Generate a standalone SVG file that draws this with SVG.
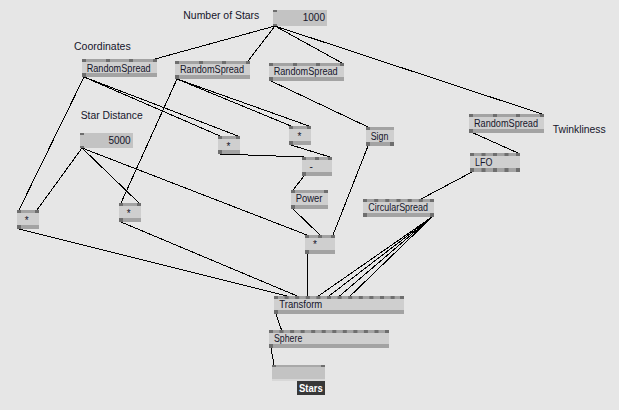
<svg xmlns="http://www.w3.org/2000/svg" width="619" height="410" viewBox="0 0 619 410">
<style>
.body{fill:#cfcfcf}
.strip{fill:#a3a3a3}
.pin{fill:#6e6e6e}
.io{fill:#c3c3c3}
.wire{stroke:#000;stroke-width:1;fill:none}
.lbl{font-family:"Liberation Sans",Tahoma,Arial,sans-serif;font-size:10px;fill:#15152a}
.sym{font-family:"Liberation Sans",Tahoma,Arial,sans-serif;font-size:10px;fill:#15152a}
</style>
<rect width="619" height="410" fill="#e6e6e6"/>

<g id="connectors" shape-rendering="crispEdges">
<line class="wire" x1="275" y1="26" x2="155" y2="59"/>
<line class="wire" x1="275" y1="26" x2="248" y2="61"/>
<line class="wire" x1="275" y1="26" x2="342" y2="63"/>
<line class="wire" x1="275" y1="26" x2="542" y2="114"/>
<line class="wire" x1="84" y1="77" x2="19" y2="210"/>
<line class="wire" x1="84" y1="77" x2="220" y2="136"/>
<line class="wire" x1="84" y1="77" x2="238" y2="136"/>
<line class="wire" x1="177" y1="79" x2="121" y2="203"/>
<line class="wire" x1="177" y1="79" x2="291" y2="126"/>
<line class="wire" x1="177" y1="79" x2="309" y2="126"/>
<line class="wire" x1="271" y1="81" x2="368" y2="127"/>
<line class="wire" x1="82" y1="148" x2="37" y2="210"/>
<line class="wire" x1="82" y1="148" x2="139" y2="203"/>
<line class="wire" x1="82" y1="148" x2="307" y2="235"/>
<line class="wire" x1="19" y1="229" x2="286.6" y2="296"/>
<line class="wire" x1="121" y1="222" x2="297.2" y2="296"/>
<line class="wire" x1="220" y1="154" x2="304" y2="157"/>
<line class="wire" x1="291" y1="145" x2="330" y2="157"/>
<line class="wire" x1="304" y1="176" x2="293" y2="190"/>
<line class="wire" x1="293" y1="209" x2="320" y2="235"/>
<line class="wire" x1="368" y1="146" x2="333" y2="235"/>
<line class="wire" x1="307.5" y1="254" x2="307.5" y2="296"/>
<line class="wire" x1="432" y1="217" x2="318.4" y2="296"/>
<line class="wire" x1="432" y1="217" x2="329" y2="296"/>
<line class="wire" x1="432" y1="217" x2="339.6" y2="296"/>
<line class="wire" x1="432" y1="217" x2="350.2" y2="296"/>
<line class="wire" x1="472" y1="172" x2="421" y2="199"/>
<line class="wire" x1="471" y1="132" x2="518" y2="153"/>
<line class="wire" x1="276" y1="314" x2="281.5" y2="330"/>
<line class="wire" x1="271" y1="348" x2="274" y2="365"/>
</g>

<text class="lbl" x="183.3" y="19" textLength="76" lengthAdjust="spacingAndGlyphs">Number of Stars</text>
<text class="lbl" x="74" y="50" textLength="56.7" lengthAdjust="spacingAndGlyphs">Coordinates</text>
<text class="lbl" x="80.7" y="118.7" textLength="62" lengthAdjust="spacingAndGlyphs">Star Distance</text>
<text class="lbl" x="552.7" y="132.7" textLength="53" lengthAdjust="spacingAndGlyphs">Twinkliness</text>

<g id="numberOfStars">
<rect class="io" x="273" y="10" width="54" height="16"/>
<rect class="pin" x="273" y="10" width="4" height="2"/>
<rect class="pin" x="273" y="24" width="4" height="2"/>
<text class="lbl" x="325" y="21" text-anchor="end">1000</text>
</g>

<g id="starDistance">
<rect class="io" x="80" y="133" width="53" height="15"/>
<rect class="pin" x="80" y="133" width="4" height="2"/>
<rect class="pin" x="80" y="146" width="4" height="2"/>
<text class="lbl" x="130.7" y="144" text-anchor="end">5000</text>
</g>

<g id="randomSpread1">
<rect class="body" x="82" y="59" width="75" height="18"/>
<rect class="strip" x="82" y="59" width="75" height="3"/>
<rect class="strip" x="82" y="73" width="75" height="4"/>
<rect class="pin" x="82" y="59" width="4" height="3"/><rect class="pin" x="106" y="59" width="4" height="3"/><rect class="pin" x="129" y="59" width="4" height="3"/><rect class="pin" x="153" y="59" width="4" height="3"/>
<rect class="pin" x="82" y="73" width="4" height="4"/>
<text class="lbl" x="86.7" y="71.7" textLength="64" lengthAdjust="spacingAndGlyphs">RandomSpread</text>
</g>

<g id="randomSpread2">
<rect class="body" x="175" y="61" width="75" height="18"/>
<rect class="strip" x="175" y="61" width="75" height="3"/>
<rect class="strip" x="175" y="75" width="75" height="4"/>
<rect class="pin" x="175" y="61" width="4" height="3"/><rect class="pin" x="199" y="61" width="4" height="3"/><rect class="pin" x="222" y="61" width="4" height="3"/><rect class="pin" x="246" y="61" width="4" height="3"/>
<rect class="pin" x="175" y="75" width="4" height="4"/>
<text class="lbl" x="180" y="72.7" textLength="64" lengthAdjust="spacingAndGlyphs">RandomSpread</text>
</g>

<g id="randomSpread3">
<rect class="body" x="269" y="63" width="75" height="18"/>
<rect class="strip" x="269" y="63" width="75" height="3"/>
<rect class="strip" x="269" y="77" width="75" height="4"/>
<rect class="pin" x="269" y="63" width="4" height="3"/><rect class="pin" x="293" y="63" width="4" height="3"/><rect class="pin" x="316" y="63" width="4" height="3"/><rect class="pin" x="340" y="63" width="4" height="3"/>
<rect class="pin" x="269" y="77" width="4" height="4"/>
<text class="lbl" x="273.7" y="74.5" textLength="64" lengthAdjust="spacingAndGlyphs">RandomSpread</text>
</g>

<g id="randomSpread4">
<rect class="body" x="469" y="114" width="75" height="19"/>
<rect class="strip" x="469" y="114" width="75" height="3"/>
<rect class="strip" x="469" y="129" width="75" height="4"/>
<rect class="pin" x="469" y="114" width="4" height="3"/><rect class="pin" x="493" y="114" width="4" height="3"/><rect class="pin" x="516" y="114" width="4" height="3"/><rect class="pin" x="540" y="114" width="4" height="3"/>
<rect class="pin" x="469" y="129" width="4" height="4"/>
<text class="lbl" x="474" y="126.7" textLength="64" lengthAdjust="spacingAndGlyphs">RandomSpread</text>
</g>

<g id="multiplyX">
<rect class="body" x="17" y="210" width="22" height="19"/>
<rect class="strip" x="17" y="210" width="22" height="3"/>
<rect class="strip" x="17" y="225" width="22" height="4"/>
<rect class="pin" x="17" y="210" width="4" height="3"/><rect class="pin" x="35" y="210" width="4" height="3"/>
<rect class="pin" x="17" y="225" width="4" height="4"/>
<text class="sym" x="24.7" y="223.5">*</text>
</g>

<g id="multiplyY">
<rect class="body" x="119" y="203" width="22" height="19"/>
<rect class="strip" x="119" y="203" width="22" height="3"/>
<rect class="strip" x="119" y="218" width="22" height="4"/>
<rect class="pin" x="119" y="203" width="4" height="3"/><rect class="pin" x="137" y="203" width="4" height="3"/>
<rect class="pin" x="119" y="218" width="4" height="4"/>
<text class="sym" x="126.7" y="216.5">*</text>
</g>

<g id="squareX">
<rect class="body" x="218" y="136" width="22" height="18"/>
<rect class="strip" x="218" y="136" width="22" height="3"/>
<rect class="strip" x="218" y="150" width="22" height="4"/>
<rect class="pin" x="218" y="136" width="4" height="3"/><rect class="pin" x="236" y="136" width="4" height="3"/>
<rect class="pin" x="218" y="150" width="4" height="4"/>
<text class="sym" x="226.4" y="149.5">*</text>
</g>

<g id="squareY">
<rect class="body" x="289" y="126" width="22" height="19"/>
<rect class="strip" x="289" y="126" width="22" height="3"/>
<rect class="strip" x="289" y="141" width="22" height="4"/>
<rect class="pin" x="289" y="126" width="4" height="3"/><rect class="pin" x="307" y="126" width="4" height="3"/>
<rect class="pin" x="289" y="141" width="4" height="4"/>
<text class="sym" x="297.4" y="139.5">*</text>
</g>

<g id="subtract">
<rect class="body" x="302" y="157" width="30" height="19"/>
<rect class="strip" x="302" y="157" width="30" height="3"/>
<rect class="strip" x="302" y="172" width="30" height="4"/>
<rect class="pin" x="302" y="157" width="4" height="3"/><rect class="pin" x="315" y="157" width="4" height="3"/><rect class="pin" x="328" y="157" width="4" height="3"/>
<rect class="pin" x="302" y="172" width="4" height="4"/>
<text class="sym" x="309.5" y="170.3">-</text>
</g>

<g id="power">
<rect class="body" x="291" y="190" width="37" height="19"/>
<rect class="strip" x="291" y="190" width="37" height="3"/>
<rect class="strip" x="291" y="205" width="37" height="4"/>
<rect class="pin" x="291" y="190" width="4" height="3"/><rect class="pin" x="324" y="190" width="4" height="3"/>
<rect class="pin" x="291" y="205" width="4" height="4"/>
<text class="lbl" x="295.7" y="202.3" textLength="26.7" lengthAdjust="spacingAndGlyphs">Power</text>
</g>

<g id="sign">
<rect class="body" x="366" y="127" width="28" height="19"/>
<rect class="strip" x="366" y="127" width="28" height="3"/>
<rect class="strip" x="366" y="142" width="28" height="4"/>
<rect class="pin" x="366" y="127" width="4" height="3"/>
<rect class="pin" x="366" y="142" width="4" height="4"/><rect class="pin" x="390" y="142" width="4" height="4"/>
<text class="lbl" x="370.7" y="140" textLength="17.7" lengthAdjust="spacingAndGlyphs">Sign</text>
</g>

<g id="multiplyZ">
<rect class="body" x="305" y="235" width="30" height="19"/>
<rect class="strip" x="305" y="235" width="30" height="3"/>
<rect class="strip" x="305" y="250" width="30" height="4"/>
<rect class="pin" x="305" y="235" width="4" height="3"/><rect class="pin" x="318" y="235" width="4" height="3"/><rect class="pin" x="331" y="235" width="4" height="3"/>
<rect class="pin" x="305" y="250" width="4" height="4"/>
<text class="sym" x="312.9" y="248">*</text>
</g>

<g id="lfo">
<rect class="body" x="470" y="153" width="50" height="19"/>
<rect class="strip" x="470" y="153" width="50" height="3"/>
<rect class="strip" x="470" y="168" width="50" height="4"/>
<rect class="pin" x="470" y="153" width="4" height="3"/><rect class="pin" x="481.5" y="153" width="4" height="3"/><rect class="pin" x="493" y="153" width="4" height="3"/><rect class="pin" x="504.5" y="153" width="4" height="3"/><rect class="pin" x="516" y="153" width="4" height="3"/>
<rect class="pin" x="470" y="168" width="4" height="4"/><rect class="pin" x="481.5" y="168" width="4" height="4"/><rect class="pin" x="493" y="168" width="4" height="4"/><rect class="pin" x="504.5" y="168" width="4" height="4"/><rect class="pin" x="516" y="168" width="4" height="4"/>
<text class="lbl" x="475" y="166" textLength="17.3" lengthAdjust="spacingAndGlyphs">LFO</text>
</g>

<g id="circularSpread">
<rect class="body" x="363" y="199" width="71" height="18"/>
<rect class="strip" x="363" y="199" width="71" height="3"/>
<rect class="strip" x="363" y="213" width="71" height="4"/>
<rect class="pin" x="363" y="199" width="4" height="3"/><rect class="pin" x="374.2" y="199" width="4" height="3"/><rect class="pin" x="385.3" y="199" width="4" height="3"/><rect class="pin" x="396.5" y="199" width="4" height="3"/><rect class="pin" x="407.7" y="199" width="4" height="3"/><rect class="pin" x="418.8" y="199" width="4" height="3"/><rect class="pin" x="430" y="199" width="4" height="3"/>
<rect class="pin" x="363" y="213" width="4" height="4"/><rect class="pin" x="430" y="213" width="4" height="4"/>
<text class="lbl" x="368.3" y="211" textLength="59.7" lengthAdjust="spacingAndGlyphs">CircularSpread</text>
</g>

<g id="transform">
<rect class="body" x="274" y="296" width="130" height="18"/>
<rect class="strip" x="274" y="296" width="130" height="3"/>
<rect class="strip" x="274" y="310" width="130" height="4"/>
<rect class="pin" x="274" y="296" width="4" height="3"/><rect class="pin" x="284.6" y="296" width="4" height="3"/><rect class="pin" x="295.2" y="296" width="4" height="3"/><rect class="pin" x="305.8" y="296" width="4" height="3"/><rect class="pin" x="316.4" y="296" width="4" height="3"/><rect class="pin" x="327" y="296" width="4" height="3"/><rect class="pin" x="337.6" y="296" width="4" height="3"/><rect class="pin" x="348.2" y="296" width="4" height="3"/><rect class="pin" x="358.8" y="296" width="4" height="3"/><rect class="pin" x="369.4" y="296" width="4" height="3"/><rect class="pin" x="380" y="296" width="4" height="3"/><rect class="pin" x="390.6" y="296" width="4" height="3"/><rect class="pin" x="400" y="296" width="4" height="3"/>
<rect class="pin" x="274" y="310" width="4" height="4"/>
<text class="lbl" x="279.3" y="308.3" textLength="43" lengthAdjust="spacingAndGlyphs">Transform</text>
</g>

<g id="sphere">
<rect class="body" x="269" y="330" width="120" height="18"/>
<rect class="strip" x="269" y="330" width="120" height="3"/>
<rect class="strip" x="269" y="344" width="120" height="4"/>
<rect class="pin" x="269" y="330" width="4" height="3"/><rect class="pin" x="279.5" y="330" width="4" height="3"/><rect class="pin" x="290.1" y="330" width="4" height="3"/><rect class="pin" x="300.6" y="330" width="4" height="3"/><rect class="pin" x="311.2" y="330" width="4" height="3"/><rect class="pin" x="321.7" y="330" width="4" height="3"/><rect class="pin" x="332.3" y="330" width="4" height="3"/><rect class="pin" x="342.8" y="330" width="4" height="3"/><rect class="pin" x="353.4" y="330" width="4" height="3"/><rect class="pin" x="363.9" y="330" width="4" height="3"/><rect class="pin" x="374.5" y="330" width="4" height="3"/><rect class="pin" x="385" y="330" width="4" height="3"/>
<rect class="pin" x="269" y="344" width="4" height="4"/>
<text class="lbl" x="274" y="341.7" textLength="28.3" lengthAdjust="spacingAndGlyphs">Sphere</text>
</g>

<g id="renderer">
<rect x="272" y="365" width="53" height="16" fill="#c3c3c3"/>
<rect x="272" y="365" width="53" height="2" fill="#a8a8a8"/>
<rect x="272" y="379" width="53" height="2" fill="#d8d8d8"/>
<rect class="pin" x="272" y="365" width="4" height="2"/><rect class="pin" x="321" y="365" width="4" height="2"/>
<rect x="297" y="381" width="28" height="14" fill="#383838"/>
<text x="299" y="391.7" textLength="23.7" lengthAdjust="spacingAndGlyphs" font-family="Liberation Sans, Tahoma, Arial, sans-serif" font-size="10.5" font-weight="bold" fill="#ffffff">Stars</text>
</g>
</svg>
